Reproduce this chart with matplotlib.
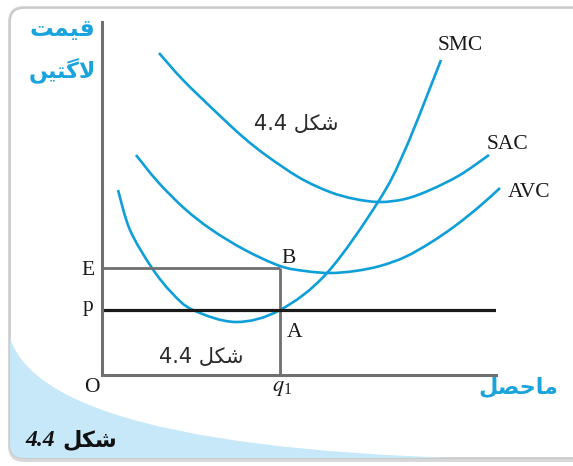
import matplotlib
matplotlib.use("Agg")
import matplotlib.pyplot as plt
from matplotlib.patches import FancyBboxPatch, PathPatch
from matplotlib.path import Path

plt.rcParams['mathtext.fontset'] = 'stix'

W, H = 573, 466

# ---- data (data units: origin at O) ----
smc_x = [16, 28, 50, 70, 91, 134, 178, 225, 276, 303, 339]
smc_y = [185, 145, 107, 82, 65, 53, 65, 102, 173, 225, 315]

avc_x = [34, 56, 83, 110, 143, 178, 203, 228, 253, 278, 303, 328, 353, 378, 398]
avc_y = [220, 193, 166, 145, 125, 109, 104, 102, 104, 109, 118, 132, 149, 169, 187]

sac_x = [57, 81, 115, 141, 165, 198, 228, 253, 278, 303, 328, 358, 387]
sac_y = [322, 295, 262, 238, 219, 197, 183, 176, 173, 176, 185, 200, 220]

E_level = 107
p_level = 65
q1 = 178
x_max, y_max = 394, 353

curve_labels = ["SMC", "SAC", "AVC"]

# Urdu texts (presentation forms, visual order)
qimat = "\uFE96\uFEE4\uFBFF\uFED7"
lagtein = "\uFB9F\uFBFF\uFE98\uFB94\uFEFB"
shakl = "\uFEDE\uFB91\uFEB7"
mahasil = "\uFEDE\uFEBC\uFEA3\uFE8E\uFEE3"
fig_no = "4.4"


def smooth_path(xs, ys):
    """Cubic Bezier path passing through the given points (Catmull-Rom tangents)."""
    pts = list(zip(xs, ys))
    n = len(pts)
    verts = [pts[0]]
    codes = [Path.MOVETO]
    for i in range(n - 1):
        p0 = pts[i - 1] if i > 0 else pts[i]
        p1 = pts[i]
        p2 = pts[i + 1]
        p3 = pts[i + 2] if i + 2 < n else pts[i + 1]
        c1 = (p1[0] + (p2[0] - p0[0]) / 6, p1[1] + (p2[1] - p0[1]) / 6)
        c2 = (p2[0] - (p3[0] - p1[0]) / 6, p2[1] - (p3[1] - p1[1]) / 6)
        verts += [c1, c2, p2]
        codes += [Path.CURVE4] * 3
    return Path(verts, codes)


fig = plt.figure(figsize=(W / 100, H / 100), dpi=100)

# ---- background frame ----
bg = fig.add_axes([0, 0, 1, 1], zorder=0)
bg.set_xlim(0, W)
bg.set_ylim(H, 0)
bg.axis('off')
shadow = FancyBboxPatch((8, 6), 620, 456, boxstyle="round,pad=0,rounding_size=16",
                        fc='#d8d8d8', ec='none')
bg.add_patch(shadow)
frame = FancyBboxPatch((10, 8), 620, 450, boxstyle="round,pad=0,rounding_size=14",
                       fc='white', ec='#c8c8c8', lw=1.2)
bg.add_patch(frame)
verts = [(10, 338), (50, 462), (600, 460), (600, 470), (0, 470), (0, 338), (10, 338)]
codes = [Path.MOVETO, Path.CURVE3, Path.CURVE3, Path.LINETO, Path.LINETO, Path.LINETO, Path.CLOSEPOLY]
wedge = PathPatch(Path(verts, codes), fc='#c6e8f8', ec='none')
bg.add_patch(wedge)
wedge.set_clip_path(frame)

# ---- main axes ----
ax = fig.add_axes([102 / W, (H - 375) / H, 394 / W, 353 / H], zorder=1)
ax.patch.set_alpha(0)
ax.set_xlim(0, x_max)
ax.set_ylim(0, y_max)
for s in ['top', 'right']:
    ax.spines[s].set_visible(False)
for s in ['left', 'bottom']:
    ax.spines[s].set_color('#707070')
    ax.spines[s].set_linewidth(2.2)
ax.set_xticks([])
ax.set_yticks([])

gray = '#707070'
ax.plot([0, q1], [E_level, E_level], color=gray, lw=2.0, solid_capstyle='butt')
ax.plot([q1, q1], [0, E_level], color=gray, lw=2.0, solid_capstyle='butt')
ax.plot([0, x_max], [p_level, p_level], color='#1a1a1a', lw=2.3, solid_capstyle='butt')

blue = '#0e9fd8'
for xs, ys in [(smc_x, smc_y), (avc_x, avc_y), (sac_x, sac_y)]:
    patch = PathPatch(smooth_path(xs, ys), fill=False, ec=blue, lw=1.9,
                      capstyle='butt', joinstyle='round', clip_on=False)
    ax.add_patch(patch)

serif = 'Liberation Serif'
tk = dict(family=serif, fontsize=15.5, color='#1a1a1a', ha='center', va='baseline')
bg.text(460, 50, curve_labels[0], **tk)
bg.text(508, 149, curve_labels[1], **tk)
bg.text(529, 197, curve_labels[2], **tk)
bg.text(88, 275, "E", **tk)
bg.text(88, 311, "p", **tk)
bg.text(92, 392, "O", **tk)
bg.text(289, 263, "B", **tk)
bg.text(295, 337, "A", **tk)
bg.text(282, 391, r"$q_{\mathregular{1}}$", family=serif, fontsize=16, color='#1a1a1a',
        ha='center', va='baseline')

ublue = '#1aa3dc'
bg.text(62, 29, qimat, family='DejaVu Sans', fontsize=17, fontweight='bold', color=ublue,
        ha='center', va='center')
bg.text(62, 70, lagtein, family='DejaVu Sans', fontsize=16, fontweight='bold', color=ublue,
        ha='center', va='center')
bg.text(518, 387, mahasil, family='DejaVu Sans', fontsize=16, fontweight='bold', color=ublue,
        ha='center', va='center')

bg.text(296, 124, fig_no + " " + shakl, family='DejaVu Sans', fontsize=15, color='#2a2a2a',
        ha='center', va='center')
bg.text(201, 357, fig_no + " " + shakl, family='DejaVu Sans', fontsize=15, color='#2a2a2a',
        ha='center', va='center')

bg.text(25, 446, fig_no, family=serif, fontsize=17, fontweight='bold', fontstyle='italic',
        color='#111111', ha='left', va='baseline')
bg.text(117, 440, shakl, family='DejaVu Sans', fontsize=16, fontweight='bold',
        color='#111111', ha='right', va='center')

fig.savefig('out.png', dpi=100)
